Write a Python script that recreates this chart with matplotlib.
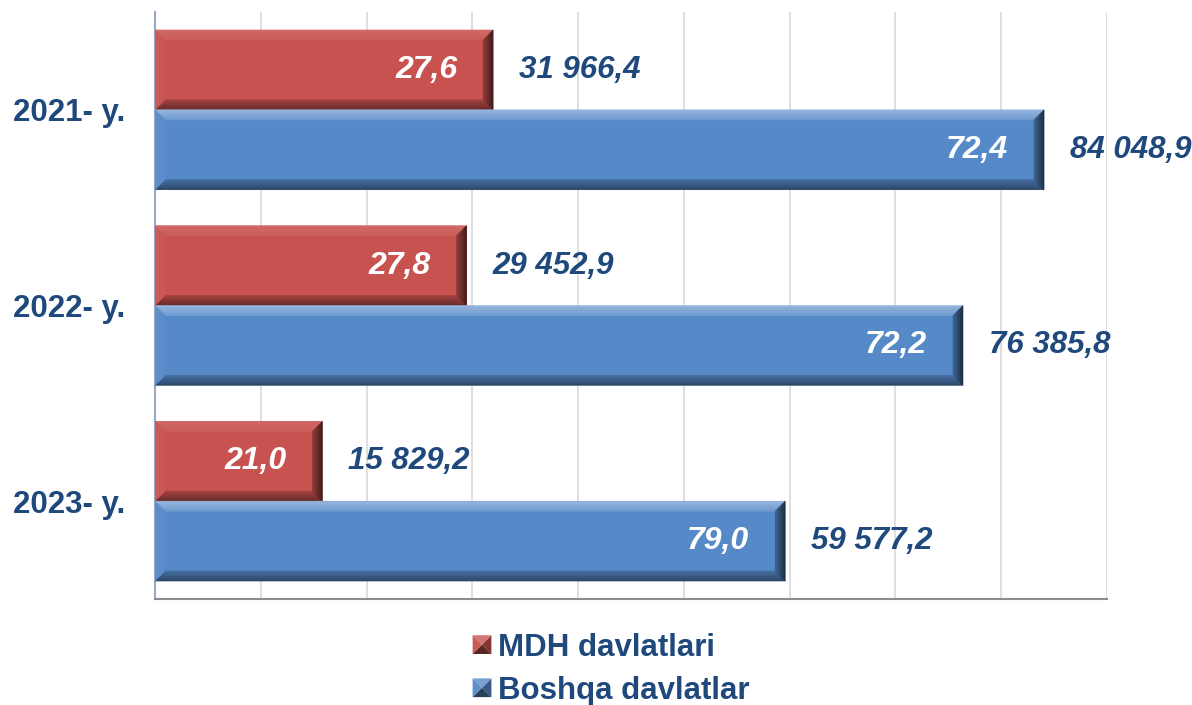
import numpy as np
import matplotlib
matplotlib.use("Agg")
import matplotlib.pyplot as plt
from matplotlib.patches import Polygon, Patch
from matplotlib.legend_handler import HandlerBase
import matplotlib.colors as mcolors

# Data
years = ["2021- y.", "2022- y.", "2023- y."]
mdh_values = [31966.4, 29452.9, 15829.2]
other_values = [84048.9, 76385.8, 59577.2]
mdh_share = ["27,6", "27,8", "21,0"]
other_share = ["72,4", "72,2", "79,0"]
mdh_labels = ["31 966,4", "29 452,9", "15 829,2"]
other_labels = ["84 048,9", "76 385,8", "59 577,2"]
series_names = ["MDH davlatlari", "Boshqa davlatlar"]

red = "#C8524F"
blue = "#5689C8"
text_blue = "#1F497D"

plt.rcParams["font.family"] = ["Liberation Sans", "DejaVu Sans"]

W, H = 1192, 705
fig = plt.figure(figsize=(W / 100, H / 100), dpi=100)
ax = fig.add_axes([155 / W, 106 / H, 952 / W, 587 / H])

xmax = 90000
ax.set_xlim(0, xmax)
ax.set_ylim(2.5, -0.5)

bar_h = 80 / 196
y = np.arange(len(years))
red_bars = ax.barh(y - bar_h / 2, mdh_values, height=bar_h, color=red, zorder=3)
blue_bars = ax.barh(y + bar_h / 2, other_values, height=bar_h, color=blue, zorder=3)

# pixel -> data conversion for the bevel effect
px_x = xmax / 952
px_y = 1 / 196


def shade(color, f):
    c = np.array(mcolors.to_rgb(color))
    if f > 0:
        c = c + (1 - c) * f
    else:
        c = c * (1 + f)
    return tuple(np.clip(c, 0, 1))


def bevel(rect, color, top_f):
    x0, y0 = rect.get_x(), rect.get_y()
    x1, y1 = x0 + rect.get_width(), y0 + rect.get_height()
    dx, dy = 10 * px_x, 10 * px_y
    n = 6
    # y axis inverted: y0 is the top of the bar on screen
    for k in range(n):
        a, b = k / n, (k + 1) / n
        w = 1 - 0.6 * (a + b) / 2
        top = [(x0 + a * dx, y0 + a * dy), (x1 - a * dx, y0 + a * dy),
               (x1 - b * dx, y0 + b * dy), (x0 + b * dx, y0 + b * dy)]
        bottom = [(x0 + a * dx, y1 - a * dy), (x1 - a * dx, y1 - a * dy),
                  (x1 - b * dx, y1 - b * dy), (x0 + b * dx, y1 - b * dy)]
        left = [(x0 + a * dx, y0 + a * dy), (x0 + b * dx, y0 + b * dy),
                (x0 + b * dx, y1 - b * dy), (x0 + a * dx, y1 - a * dy)]
        right = [(x1 - a * dx, y0 + a * dy), (x1 - b * dx, y0 + b * dy),
                 (x1 - b * dx, y1 - b * dy), (x1 - a * dx, y1 - a * dy)]
        for pts, f in [(top, top_f), (bottom, -0.5), (left, 0.06), (right, -0.7)]:
            c = shade(color, f * w)
            ax.add_patch(Polygon(pts, closed=True, facecolor=c, edgecolor=c,
                                 linewidth=0.4, zorder=4))


for r in red_bars:
    bevel(r, red, 0.15)
for r in blue_bars:
    bevel(r, blue, 0.4)

# labels
for bars, shares, labels in [(red_bars, mdh_share, mdh_labels),
                             (blue_bars, other_share, other_labels)]:
    for r, s, lab in zip(bars, shares, labels):
        xe = r.get_width()
        yc = r.get_y() + r.get_height() / 2
        ax.text(xe - 36 * px_x, yc, s, ha="right", va="center", color="white",
                fontsize=23, fontweight="bold", style="italic", zorder=5)
        ax.text(xe + 26 * px_x, yc, lab, ha="left", va="center", color=text_blue,
                fontsize=22.5, fontweight="bold", style="italic", zorder=5,
                clip_on=False)

# axes styling
ax.set_yticks(y)
ax.set_yticklabels(years, fontsize=22.5, fontweight="bold", color=text_blue)
ax.tick_params(axis="y", length=0, pad=21.5)
ax.set_xticks(np.arange(10000, xmax + 1, 10000))
ax.tick_params(axis="x", length=0, labelbottom=False)
ax.grid(axis="x", color="#D9D9D9", linewidth=1.2, zorder=0)
ax.set_axisbelow(True)
for side in ["top", "right"]:
    ax.spines[side].set_visible(False)
ax.spines["left"].set_color("#9AA8C8")
ax.spines["left"].set_linewidth(1.5)
ax.spines["bottom"].set_color("#8C8C8C")
ax.spines["bottom"].set_linewidth(1.5)


class PyramidHandler(HandlerBase):
    def create_artists(self, legend, orig_handle, xdescent, ydescent,
                       width, height, fontsize, trans):
        color = orig_handle.get_facecolor()
        s = min(width, height)
        x0, y0 = -xdescent + (width - s) / 2, -ydescent + (height - s) / 2
        cx, cy = x0 + s / 2, y0 + s / 2
        corners = [(x0, y0), (x0 + s, y0), (x0 + s, y0 + s), (x0, y0 + s)]
        fs = [-0.55, -0.35, 0.2, 0.05]  # bottom, right, top, left
        arts = []
        for i, f in enumerate(fs):
            pts = [corners[i], corners[(i + 1) % 4], (cx, cy)]
            arts.append(Polygon(pts, closed=True, facecolor=shade(color, f),
                                edgecolor="none", transform=trans))
        return arts


handles = [Patch(facecolor=red), Patch(facecolor=blue)]
leg = fig.legend(handles, series_names, loc="upper left",
                 bbox_to_anchor=(457 / W, 1 - 617 / H),
                 handler_map={Patch: PyramidHandler()},
                 frameon=False, handlelength=0.6, handleheight=0.6,
                 handletextpad=0.2, labelspacing=0.42, borderpad=0,
                 prop={"size": 22.5, "weight": "bold"})
for t in leg.get_texts():
    t.set_color(text_blue)

fig.savefig("out.png", dpi=100, facecolor="white")
